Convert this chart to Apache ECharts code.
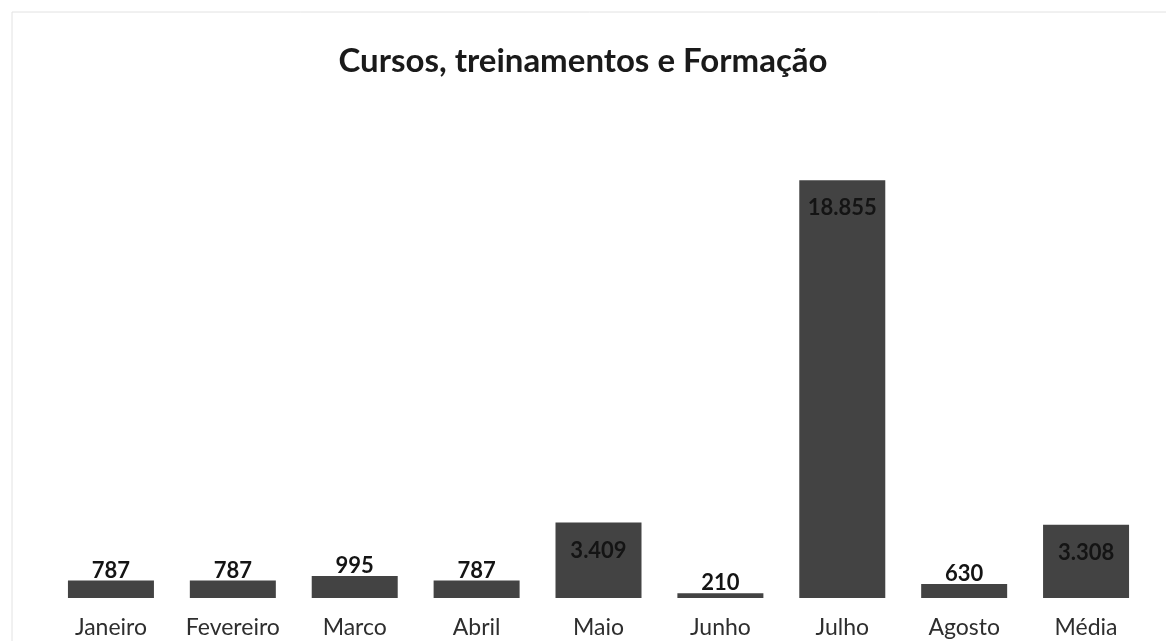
<!DOCTYPE html>
<html>
<head>
<meta charset="utf-8">
<script src="https://cdn.jsdelivr.net/npm/echarts@6/dist/echarts.min.js"></script>
<style>
	html,body{margin:0;padding:0;background:#fff;}
	#main{width:1166px;height:641px;}
</style>
</head>
<body>
<div id="main"></div>
<script>
	// dados
	var meses = ['Janeiro', 'Fevereiro', 'Marco', 'Abril', 'Maio', 'Junho', 'Julho', 'Agosto', 'Média'];
	var valores = [787, 787, 995, 787, 3409, 210, 18855, 630, 3308];

	function fmt(v){
		return String(v).replace(/\B(?=(\d{3})+(?!\d))/g, '.');
	}

	var chart = echarts.init(document.getElementById('main'));
	var option = {
		backgroundColor: '#fff',
		title: {
			text: 'Cursos, treinamentos e Formação',
			left: 'center',
			top: 40,
			textStyle: {
				fontFamily: 'Lato',
				fontSize: 33,
				fontWeight: 'bold',
				color: '#1a1a1a'
			}
		},
		graphic: [
			{
				type: 'rect',
				shape: {x: 12, y: 12, width: 1160, height: 640},
				style: {fill: 'none', stroke: '#e2e2e2', lineWidth: 1},
				silent: true
			}
		],
		grid: {
			left: 50,
			right: 19,
			top: 155,
			bottom: 43
		},
		xAxis: {
			type: 'category',
			data: meses,
			axisLine: {show: false},
			axisTick: {show: false},
			axisLabel: {
				interval: 0,
				margin: 18,
				fontFamily: 'Lato',
				fontSize: 23,
				color: '#2e2e2e'
			}
		},
		yAxis: {
			type: 'value',
			min: 0,
			max: 20000,
			show: false,
			splitLine: {show: false}
		},
		series: [
			{
				type: 'bar',
				barWidth: 86,
				data: valores.map(function(v){
					var big = v > 2000;
					return {
						value: v,
						label: {
							position: big ? 'insideTop' : 'top',
							distance: big ? 17 : -1
						}
					};
				}),
				itemStyle: {
					color: '#434343'
				},
				label: {
					show: true,
					fontFamily: 'Lato',
					fontSize: 22,
					fontWeight: 'bold',
					color: '#141414',
					formatter: function(p){ return fmt(p.value); }
				}
			}
		]
	};
	chart.setOption(option);
</script>
</body>
</html>
